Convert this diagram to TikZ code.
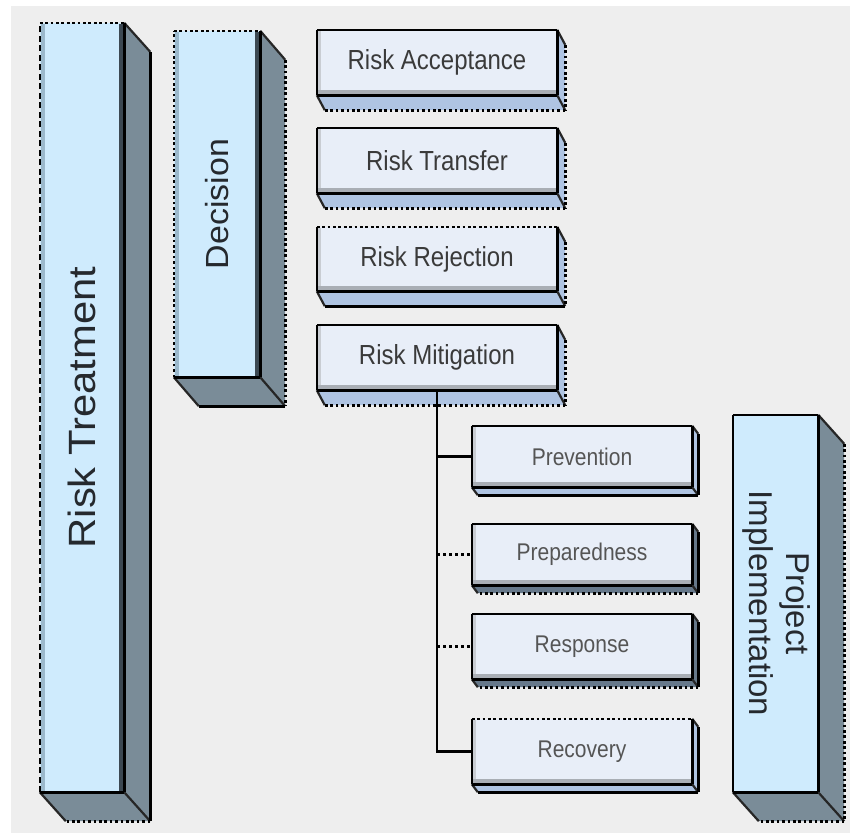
\documentclass[tikz,border=0pt]{standalone}
\usepackage{fontspec}
\setmainfont{Liberation Sans}
\usepackage{graphicx}

\definecolor{pagebg}{HTML}{EEEEEE}
\definecolor{bigfront}{HTML}{CFEBFD}
\definecolor{bigside}{HTML}{7A8C98}
\definecolor{bigleft}{HTML}{9CB9CC}
\definecolor{bigright}{HTML}{3C4852}
\definecolor{smallfront}{HTML}{E8EEF8}
\definecolor{smallside}{HTML}{AFC4E2}
\definecolor{darkside}{HTML}{66788A}
\definecolor{smallbevel}{HTML}{A9AEB5}
\definecolor{smallleft}{HTML}{C9CDD3}
\definecolor{bigtext}{HTML}{25292E}
\definecolor{smalltext}{HTML}{3A3A3A}
\definecolor{subtext}{HTML}{555555}

% edges of a front face, given one style per side
\newcommand\faceedges[5]{%
  \draw[#2] (#1.north west) -- (#1.north east);
  \draw[#3] (#1.north east) -- (#1.south east);
  \draw[#4] (#1.south east) -- (#1.south west);
  \draw[#5] (#1.south west) -- (#1.north west);}

% side and bottom faces pushed back by (dx,dy)
\newcommand\extrude[7]{%
  \fill[#4] (#1.north east) -- ++(#2,#3) -- ([shift={(#2,#3)}]#1.south east)
     -- ([shift={(#2,#3)}]#1.south west) -- (#1.south west) -- (#1.south east) -- cycle;
  \draw[#7] (#1.north east) -- ++(#2,#3);
  \draw[#7] (#1.south east) -- ++(#2,#3);
  \draw[#7] (#1.south west) -- ++(#2,#3);
  \draw[#5] ([shift={(#2,#3)}]#1.north east) -- ([shift={(#2,#3)}]#1.south east);
  \draw[#6] ([shift={(#2,#3)}]#1.south east) -- ([shift={(#2,#3)}]#1.south west);}

% inner shading strips of the tall boxes
\newcommand\bigbevel[1]{%
  \fill[bigleft] ([shift={(1,1)}]#1.north west) rectangle ([shift={(5,-1)}]#1.south west);
  \fill[bigright] ([shift={(-5,1)}]#1.north east) rectangle ([shift={(-1,-1)}]#1.south east);}

% inner shading strips of the flat boxes
\newcommand\smallbevel[1]{%
  \fill[smallleft] ([shift={(1,1)}]#1.north west) rectangle ([shift={(4,-1)}]#1.south west);
  \fill[smallbevel] ([shift={(1,-5)}]#1.south west) rectangle ([shift={(-1,-1)}]#1.south east);}

\newcommand\tallish[1]{\scalebox{1}[1.15]{#1}}

\begin{document}
\begin{tikzpicture}[x=1pt,y=-1pt,
  solidedge/.style={line width=2.6pt, draw=black, line cap=square},
  dotedge/.style={line width=2.6pt, draw=black, dash pattern=on 2.7pt off 2.7pt},
  dashedge/.style={line width=2.6pt, draw=black, dash pattern=on 6pt off 3.5pt},
  slant/.style={line width=2.2pt, draw=black!85},
  tallbox/.style={fill=bigfront, draw=none, inner sep=0pt, text=bigtext},
  flatbox/.style={fill=smallfront, draw=none, inner sep=0pt, text=smalltext,
    minimum width=240pt, minimum height=65pt, font=\fontsize{24}{28}\selectfont},
  subbox/.style={fill=smallfront, draw=none, inner sep=0pt, text=subtext,
    minimum width=220pt, minimum height=61pt, font=\fontsize{21}{25}\selectfont},
  link/.style={line width=2.8pt, draw=black},
  dotlink/.style={line width=2.8pt, draw=black, dash pattern=on 3pt off 3pt}
]
\useasboundingbox (0,0) rectangle (850,833);
\fill[white] (0,0) rectangle (850,833);
\fill[pagebg] (11,6) rectangle (850,833);

% ---- tall boxes ----
\node[tallbox, minimum width=84pt, minimum height=769pt] (rt) at (82,407.5)
  {\fontsize{38}{40}\selectfont\rotatebox{90}{\scalebox{1.1}[1]{Risk Treatment}}};
\bigbevel{rt}
\extrude{rt}{26}{29}{bigside}{solidedge}{dotedge}{slant}
\faceedges{rt}{dotedge}{solidedge}{solidedge}{dashedge}

\node[tallbox, minimum width=86pt, minimum height=346pt] (dec) at (217,204)
  {\fontsize{32}{34}\selectfont\rotatebox{90}{\scalebox{1.06}[1]{Decision}}};
\bigbevel{dec}
\extrude{dec}{25}{29}{bigside}{dotedge}{solidedge}{slant}
\faceedges{dec}{dotedge}{solidedge}{solidedge}{dotedge}

\node[tallbox, minimum width=85pt, minimum height=377pt] (pi) at (775.5,603.5)
  {\fontsize{33}{37}\selectfont\rotatebox{-90}{\begin{tabular}{@{}c@{}}Project\\Implementation\end{tabular}}};
\extrude{pi}{26}{29}{bigside}{dotedge}{dotedge}{slant}
\faceedges{pi}{solidedge}{solidedge}{solidedge}{solidedge}

% ---- decision options ----
\node[flatbox] (acc) at (437,62.5) {\tallish{Risk Acceptance}};
\smallbevel{acc}
\extrude{acc}{8}{15}{smallside}{dotedge}{dotedge}{slant}
\faceedges{acc}{solidedge}{solidedge}{solidedge}{solidedge}

\node[flatbox] (tra) at (437,160.5) {\tallish{Risk Transfer}};
\smallbevel{tra}
\extrude{tra}{8}{15}{smallside}{dotedge}{dotedge}{slant}
\faceedges{tra}{solidedge}{solidedge}{solidedge}{solidedge}

\node[flatbox, minimum height=64pt] (rej) at (437,259) {\tallish{Risk Rejection}};
\smallbevel{rej}
\extrude{rej}{8}{15}{smallside}{dotedge}{solidedge}{slant}
\faceedges{rej}{dotedge}{solidedge}{solidedge}{solidedge}

\node[flatbox] (mit) at (437,357.5) {\tallish{Risk Mitigation}};
\smallbevel{mit}
\extrude{mit}{8}{15}{smallside}{dotedge}{dotedge}{slant}
\faceedges{mit}{solidedge}{solidedge}{solidedge}{solidedge}

% ---- mitigation phases ----
\node[subbox] (prev) at (582,456.5) {\tallish{Prevention}};
\smallbevel{prev}
\extrude{prev}{6}{8}{smallside}{solidedge}{solidedge}{slant}
\faceedges{prev}{solidedge}{solidedge}{solidedge}{solidedge}

\node[subbox] (prep) at (582,554.5) {\tallish{Preparedness}};
\smallbevel{prep}
\extrude{prep}{6}{8}{darkside}{solidedge}{dotedge}{slant}
\faceedges{prep}{solidedge}{solidedge}{solidedge}{solidedge}

\node[subbox, minimum height=65pt] (resp) at (582,646.5) {\tallish{Response}};
\smallbevel{resp}
\extrude{resp}{6}{8}{darkside}{solidedge}{dotedge}{slant}
\faceedges{resp}{solidedge}{solidedge}{solidedge}{solidedge}

\node[subbox, minimum height=65pt] (rec) at (582,751.5) {\tallish{Recovery}};
\smallbevel{rec}
\extrude{rec}{6}{8}{smallside}{solidedge}{solidedge}{slant}
\faceedges{rec}{dotedge}{solidedge}{solidedge}{solidedge}

% ---- tree connectors ----
\draw[link] (mit.south) |- (rec.west);
\draw[link] (mit.south) |- (prev.west);
\draw[dotlink] (prep.west -| mit.south) -- (prep.west);
\draw[dotlink] (resp.west -| mit.south) -- (resp.west);
\end{tikzpicture}
\end{document}
